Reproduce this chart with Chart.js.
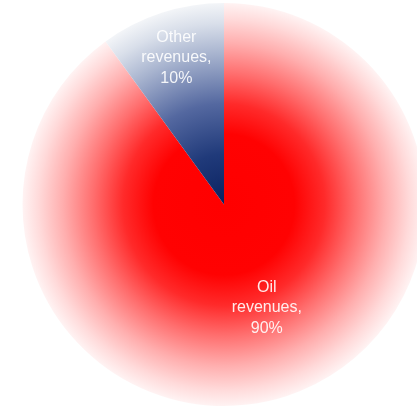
<!DOCTYPE html>
<html>
<head>
<meta charset="utf-8">
<script src="https://cdn.jsdelivr.net/npm/chart.js@4"></script>
<style>
  html, body { margin:0; padding:0; background:#fff; overflow:hidden; }
  #wrap { position:relative; width:448px; height:409px; }
</style>
</head>
<body>
<div id="wrap"><canvas id="revChart" width="448" height="409"></canvas></div>
<script>
// revenue split: oil vs everything else
const labels = ['Oil revenues', 'Other revenues'];
const shares = [90, 10];

// radial fills, dark at the centre and fading out toward the rim
const redStops  = [[0,'#ff0000'],[0.35,'#ff0202'],[0.5,'#ff2a2a'],[0.65,'#ff6e6e'],[0.8,'#ffaeae'],[0.92,'#ffdada'],[1,'#fff3f3']];
const blueStops = [[0,'#0a2260'],[0.25,'#203a7a'],[0.5,'#5468a0'],[0.75,'#a8b4cf'],[0.9,'#d9dfea'],[1,'#f3f5f8']];

function radialFill(ctx, stops){
  const area = ctx.chart.chartArea;
  if(!area) return stops[0][1];
  const cx = (area.left + area.right)/2, cy = (area.top + area.bottom)/2;
  const r = Math.min(area.right - area.left, area.bottom - area.top)/2;
  const g = ctx.chart.ctx.createRadialGradient(cx, cy, 0, cx, cy, r);
  stops.forEach(([o,c])=>g.addColorStop(o,c));
  return g;
}

// slice labels: "name," / "NN%" stacked, placed along each slice's mid angle
const sliceLabels = {
  id:'sliceLabels',
  afterDatasetsDraw(chart, args, opts){
    const {ctx} = chart;
    const meta = chart.getDatasetMeta(0);
    ctx.save();
    ctx.font = opts.font;
    ctx.fillStyle = opts.color;
    ctx.textAlign = 'center';
    ctx.textBaseline = 'middle';
    meta.data.forEach((arc,i)=>{
      const p = opts.place[i];
      const mid = (arc.startAngle + arc.endAngle)/2 + p.turn*Math.PI/180;
      const r = arc.outerRadius * p.r;
      const cx = arc.x + Math.cos(mid)*r, cy = arc.y + Math.sin(mid)*r;
      const words = labels[i].split(' ');
      const lines = [words[0], words.slice(1).join(' ') + ',', shares[i] + '%'];
      lines.forEach((t,k)=>ctx.fillText(t, cx, cy + (k-1)*opts.lineHeight));
    });
    ctx.restore();
  }
};

const chart = new Chart(document.getElementById('revChart'), {
  type:'pie',
  data:{ labels, datasets:[{
    data: shares,
    borderWidth: 0,
    backgroundColor: (c)=> radialFill(c, c.dataIndex===0 ? redStops : blueStops)
  }]},
  options:{
    responsive:false,
    animation:false,
    layout:{ padding:{ top:3, bottom:3, left:0, right:0 } },
    plugins:{
      legend:{ display:false },
      tooltip:{ enabled:false },
      sliceLabels:{
        font:'16px "Liberation Sans", Arial, sans-serif',
        color:'rgba(255,255,255,0.9)',
        lineHeight:20.5,
        place:[ {r:0.555, turn:-4.5}, {r:0.765, turn:0} ]
      }
    }
  },
  plugins:[sliceLabels]
});
chart.update();
</script>
</body>
</html>
